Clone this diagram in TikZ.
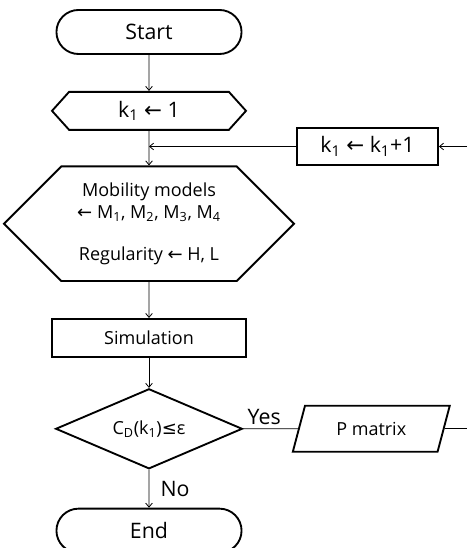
\documentclass[tikz,border=0pt]{standalone}
\usepackage{fontspec}
\setmainfont{Open Sans}
\newfontfamily\symfont{DejaVu Sans}
\usetikzlibrary{arrows.meta, positioning, shapes.geometric, shapes.misc, shapes.symbols}

\newcommand{\larr}{{\symfont ←}}

\begin{document}
\begin{tikzpicture}[
    x=0.75pt, y=0.75pt,
    every node/.style={font=\fontsize{13.5}{16.5}\selectfont},
    big/.style={font=\fontsize{16}{19}\selectfont},
    terminal/.style={rounded rectangle, draw, line width=1.4pt, minimum width=145.5pt, minimum height=33pt, big},
    prep/.style={signal, signal to=west and east, draw, line width=1.4pt, align=center},
    process/.style={rectangle, draw, line width=1.4pt, minimum width=145.5pt, minimum height=28.5pt},
    decision/.style={diamond, aspect=2.33, draw, line width=1.4pt, minimum width=140pt, minimum height=60pt, inner sep=1pt},
    io/.style={trapezium, trapezium left angle=72, trapezium right angle=108, trapezium stretches=true, draw, line width=1.4pt, minimum width=118.5pt, minimum height=34.5pt},
    >={Straight Barb[length=3pt, width=5pt]},
    flow/.style={->, line width=0.6pt},
]
\useasboundingbox (0,0) rectangle (467,548);
\clip (0,0) rectangle (467,548);

% Main flow
\node[terminal] (start) at (149,516) {Start};
\node[prep, big, below=27pt of start, minimum width=145.5pt, minimum height=28.5pt, signal pointer angle=96] (init) {k\textsubscript{1} \larr{} 1};
\node[prep, below=26pt of init, minimum width=217.5pt, minimum height=86pt, signal pointer angle=90] (mob) {Mobility models\\\larr{} M\textsubscript{1}, M\textsubscript{2}, M\textsubscript{3}, M\textsubscript{4}\\[15pt]Regularity \larr{} H, L};
\node[process, below=27pt of mob] (sim) {Simulation};
\node[decision, below=22.5pt of sim] (dec) {C\textsubscript{D}(k\textsubscript{1}){\symfont ≤}ε};
\node[terminal, below=28.5pt of dec] (end) {End};

% Loop side
\node[process, big, minimum width=105.75pt, minimum height=27.75pt] (inc) at (367.5,401.5) {k\textsubscript{1} \larr{} k\textsubscript{1}+1};
\node[io, right=41pt of dec] (pmat) {P matrix};
\coordinate (rim) at (467,0);
\coordinate (pout) at (pmat.east -| rim);
\coordinate (pin) at (inc.east -| rim);

% Vertical flow
\draw[flow] (start) -- (init);
\draw[flow] (init) -- (mob);
\draw[flow] (mob) -- (sim);
\draw[flow] (sim) -- (dec);
\draw[flow] (dec) -- node[right=5pt, big] {No} (end);

% Yes branch and loop back
\draw[line width=0.6pt] (dec) -- node[above right, pos=0, big, inner sep=3pt] {Yes} (pmat);
\draw[line width=0.6pt] (pmat.east) -- (pout);
\draw[flow] (pin) -- (inc);
\draw[flow] (inc) -- (inc.west -| init.south);

\end{tikzpicture}
\end{document}
